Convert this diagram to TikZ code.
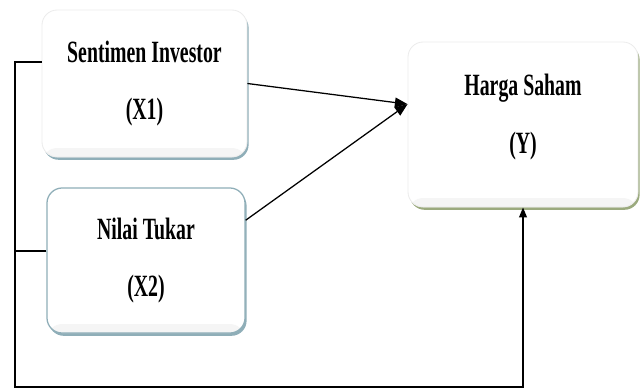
\documentclass[tikz,border=0pt]{standalone}
\usepackage{fontspec}
\newfontfamily\boxfont[FakeStretch=0.64]{Liberation Serif}
\usetikzlibrary{arrows.meta,shadows,calc}
\definecolor{blueshade}{HTML}{8FAEB8}
\definecolor{greenshade}{HTML}{9BAA7E}

\begin{document}
\begin{tikzpicture}[x=0.025cm,y=-0.025cm,
  varbox/.style={rounded corners=0.38cm, draw=gray!15, line width=0.6pt, fill=white,
    path picture={\fill[gray!8] ($(path picture bounding box.south west)+(0,-9)$)
      rectangle (path picture bounding box.south east);},
    align=center, inner sep=0pt,
    font=\boxfont\bfseries\fontsize{22}{26}\selectfont},
  blueshadow/.style={drop shadow={shadow xshift=0.04cm, shadow yshift=-0.07cm, fill=blueshade, opacity=1}},
  greenshadow/.style={drop shadow={shadow xshift=0.04cm, shadow yshift=-0.07cm, fill=greenshade, opacity=1}},
  conn/.style={line width=0.9pt, -{Triangle[length=9pt,width=7pt]}},
  fb/.style={line width=0.9pt}]
  \useasboundingbox (0,0) rectangle (642,390);

  % variabel
  \node[varbox, blueshadow, minimum width=5.125cm, minimum height=3.675cm] (X1) at (144.5,83.5)
    {Sentimen Investor\\[15pt](X1)};
  \node[varbox, blueshadow, draw=blueshade, line width=0.9pt, minimum width=4.95cm, minimum height=3.625cm] (X2) at (146,260.5)
    {Nilai Tukar\\[15pt](X2)};
  \node[varbox, greenshadow, minimum width=5.75cm, minimum height=4.125cm] (Y) at (523,124.5)
    {Harga Saham\\[15pt](Y)\rule[-15pt]{0pt}{0pt}};

  % panah
  \draw[conn] (X1.east) -- (Y.170);
  \draw[conn] (X2.22) -- (Y.170);

  % garis simultan
  \coordinate (corner) at (15,387);
  \coordinate (x1stub) at ($(X1.west)+(0,-21.5)$);
  \coordinate (x2stub) at ($(X2.west)+(0,-9.5)$);
  \draw[fb, -{Triangle[length=7pt,width=5.5pt]}] (x1stub) -| (corner) -| (Y.south);
  \draw[fb] (x2stub) -- (x2stub -| corner);
\end{tikzpicture}
\end{document}
